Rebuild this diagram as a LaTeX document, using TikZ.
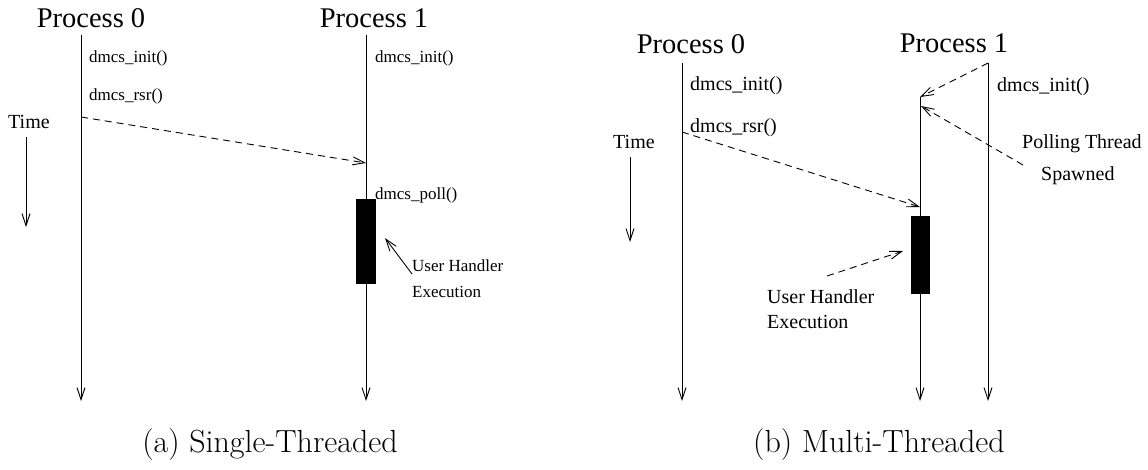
\documentclass[tikz,border=0pt]{standalone}
\usepackage{fontspec}
\newfontfamily\tms{Liberation Serif}
\usetikzlibrary{arrows.meta}
\begin{document}
\begin{tikzpicture}[x=1pt,y=-1pt,
  lbl/.style={anchor=base west,inner sep=0pt,font=\tms\fontsize{17}{19}\selectfont},
  lblb/.style={anchor=base west,inner sep=0pt,font=\tms\fontsize{20}{22}\selectfont},
  proc/.style={anchor=base,inner sep=0pt,font=\tms\fontsize{28.5}{30}\selectfont},
  captxt/.style={anchor=base,inner sep=0pt,font=\fontsize{32}{34}\selectfont},
  life/.style={line width=0.9pt,-{Straight Barb[length=12pt,width=8pt]}},
  msg/.style={line width=0.9pt,dash pattern=on 7pt off 5pt,-{Straight Barb[length=12pt,width=8pt]}},
  note/.style={line width=0.9pt,-{Straight Barb[length=12pt,width=8pt]}},
  exec/.style={fill=black,draw=black,line width=0.6pt}]
\useasboundingbox (0,0) rectangle (1148,469);

% ---------- (a) single-threaded ----------
\node[proc] (p0a) at (91,27) {Process 0};
\node[proc] (p1a) at (374,27) {Process 1};
\coordinate (p0aTop) at (81,35);
\coordinate (p0aBot) at (81,401);
\coordinate (p1aTop) at (366,35);
\coordinate (p1aBot) at (366,401);
\draw[life] (p0aTop) -- (p0aBot);
\draw[life] (p1aTop) -- (p1aBot);
\node[lbl] (ia0) at (89,62) {dmcs\_init()};
\node[lbl] (ra0) at (89,100) {dmcs\_rsr()};
\node[lbl] (ia1) at (375,62) {dmcs\_init()};
\node[lblb] (ta) at (8,128) {Time};
\coordinate (taTop) at (26,137);
\coordinate (taBot) at (26,227);
\draw[life] (taTop) -- (taBot);
\coordinate (rsrA) at (81,117);
\coordinate (rsrAend) at (366,163);
\draw[msg] (rsrA) -- (rsrAend);
\node[lbl] (polla) at (375,199) {dmcs\_poll()};
\node[exec,minimum width=19pt,minimum height=84pt,inner sep=0pt] (boxa) at (365.5,241) {};
\node[lbl] (uha) at (412,271) {User Handler};
\node[lbl] (exa) at (412,297) {Execution};
\coordinate (uhaS) at (412,274);
\coordinate (uhaT) at (385,238);
\draw[note] (uhaS) -- (uhaT);
\node[captxt] (capa) at (270,452) {(a) Single-Threaded};

% ---------- (b) multi-threaded ----------
\node[proc] (p0b) at (691,53) {Process 0};
\node[proc] (p1b) at (954,52) {Process 1};
\coordinate (p0bTop) at (682,63);
\coordinate (p0bBot) at (682,401);
\coordinate (p1bTop) at (988,63);
\coordinate (p1bBot) at (988,401);
\coordinate (thTop) at (920,97);
\coordinate (thBot) at (920,401);
\draw[life] (p0bTop) -- (p0bBot);
\draw[life] (p1bTop) -- (p1bBot);
\draw[life] (thTop) -- (thBot);
\node[lblb] (ib0) at (690,90) {dmcs\_init()};
\node[lblb] (rb0) at (690,132) {dmcs\_rsr()};
\node[lblb] (ib1) at (997,91) {dmcs\_init()};
\node[lblb] (tb) at (613,148) {Time};
\coordinate (tbTop) at (630,157);
\coordinate (tbBot) at (630,242);
\draw[life] (tbTop) -- (tbBot);
\coordinate (rsrB) at (682,132);
\coordinate (rsrBend) at (920,207);
\draw[msg] (rsrB) -- (rsrBend);
\draw[msg] (p1bTop) -- (thTop);
\coordinate (spS) at (1023,165);
\coordinate (spT) at (921,106);
\draw[msg] (spS) -- (spT);
\node[lblb] (pt) at (1022,148) {Polling Thread};
\node[lblb] (sp) at (1041,180) {Spawned};
\node[exec,minimum width=18pt,minimum height=77pt,inner sep=0pt] (boxb) at (920,254.5) {};
\node[lblb] (uhb) at (767,303) {User Handler};
\node[lblb] (exb) at (767,328) {Execution};
\coordinate (uhbS) at (827,276);
\coordinate (uhbT) at (903,251);
\draw[msg] (uhbS) -- (uhbT);
\node[captxt] (capb) at (879,452) {(b) Multi-Threaded};
\end{tikzpicture}
\end{document}
